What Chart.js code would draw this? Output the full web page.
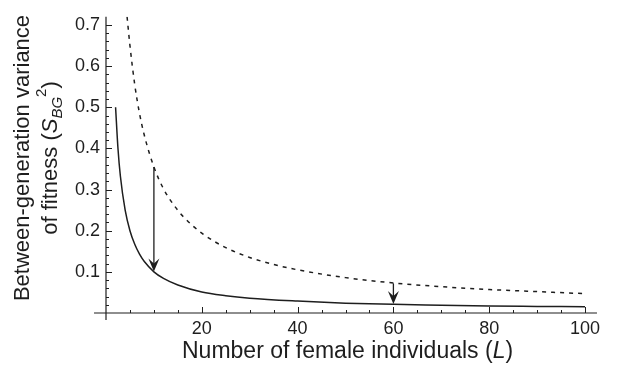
<!DOCTYPE html>
<html>
<head>
<meta charset="utf-8">
<script src="https://cdn.jsdelivr.net/npm/chart.js@4.4.1/dist/chart.umd.min.js"></script>
<style>
  html, body { margin: 0; padding: 0; background: #fff; }
  #wrap { width: 617px; height: 374px; }
</style>
</head>
<body>
<div id="wrap"><canvas id="chart" width="617" height="374"></canvas></div>
<script>
// values
const solidL = [2, 2.5, 3, 4, 5, 6, 7, 8, 10, 12, 15, 20, 25, 30, 40, 50, 60, 70, 80, 90, 100];
const solidV = [0.5, 0.4, 0.333, 0.25, 0.2, 0.167, 0.143, 0.125, 0.1, 0.084, 0.068, 0.051, 0.042, 0.036, 0.029, 0.024, 0.021, 0.019, 0.017, 0.016, 0.015];
const dashedL = [4.4, 5, 6, 7, 8, 10, 12, 14, 16, 20, 25, 30, 35, 40, 50, 60, 70, 80, 90, 100];
const dashedV = [0.72, 0.65, 0.555, 0.485, 0.432, 0.355, 0.302, 0.265, 0.236, 0.194, 0.159, 0.135, 0.118, 0.105, 0.086, 0.073, 0.064, 0.057, 0.052, 0.047];
const arrowL = [10, 60];
const arrowFrom = [0.355, 0.072];
const arrowTo = [0.101, 0.022];
const xTicks = [20, 40, 60, 80, 100];
const yTicks = [0.1, 0.2, 0.3, 0.4, 0.5, 0.6, 0.7];

const FONT = '"Liberation Sans", Arial, Helvetica, sans-serif';
const INK = '#1e1e1e';

// Mathematica-style crossing axes with inward ticks
const axesPlugin = {
    id: 'axes',
    afterDatasetsDraw(chart) {
        const { ctx, scales: { x, y } } = chart;
        const x0 = x.getPixelForValue(0), y0 = y.getPixelForValue(0);
        ctx.save();
        ctx.strokeStyle = INK;
        ctx.lineWidth = 1.2;
        ctx.beginPath();
        ctx.moveTo(x.getPixelForValue(-2.5), y0);
        ctx.lineTo(x.getPixelForValue(102.5), y0);
        ctx.moveTo(x0, y.getPixelForValue(0.72));
        ctx.lineTo(x0, y.getPixelForValue(-0.017));
        ctx.stroke();

        ctx.lineWidth = 1;
        ctx.beginPath();
        for (let v = 5; v <= 100; v += 5) {
            const px = Math.round(x.getPixelForValue(v)) + 0.5;
            const len = v % 20 === 0 ? 6 : 3;
            ctx.moveTo(px, y0);
            ctx.lineTo(px, y0 - len);
        }
        for (let i = 1; i <= 35; i++) {
            const py = Math.round(y.getPixelForValue(i * 0.02)) + 0.5;
            const len = i % 5 === 0 ? 6 : 3;
            ctx.moveTo(x0, py);
            ctx.lineTo(x0 + len, py);
        }
        ctx.stroke();
        ctx.restore();
    }
};

// the two downward arrows from dashed to solid curve
const arrowPlugin = {
    id: 'arrows',
    afterDatasetsDraw(chart) {
        const { ctx, scales: { x, y } } = chart;
        ctx.save();
        ctx.strokeStyle = INK;
        ctx.fillStyle = INK;
        ctx.lineWidth = 1.3;
        arrowL.forEach((L, i) => {
            const px = x.getPixelForValue(L);
            const top = y.getPixelForValue(arrowFrom[i]);
            const tip = y.getPixelForValue(arrowTo[i]);
            ctx.beginPath();
            ctx.moveTo(px, top);
            ctx.lineTo(px, tip - 4);
            ctx.stroke();
            ctx.beginPath();
            ctx.moveTo(px, tip);
            ctx.lineTo(px - 5.5, tip - 13);
            ctx.lineTo(px, tip - 8);
            ctx.lineTo(px + 5.5, tip - 13);
            ctx.closePath();
            ctx.fill();
        });
        ctx.restore();
    }
};

function richWidth(ctx, parts) {
    return parts.reduce((w, p) => { ctx.font = p.font; return w + ctx.measureText(p.t).width; }, 0);
}

function drawRich(ctx, parts, x, y) {
    let cx = x;
    parts.forEach(p => {
        ctx.font = p.font;
        ctx.fillText(p.t, cx, y + (p.dy || 0));
        cx += ctx.measureText(p.t).width;
    });
}

// axis titles with italic / sub / superscript pieces
const titlePlugin = {
    id: 'titles',
    afterDraw(chart) {
        const { ctx } = chart;
        ctx.save();
        ctx.fillStyle = INK;
        ctx.textBaseline = 'alphabetic';
        drawRich(ctx, [
            { t: 'Number of female individuals (', font: '23px ' + FONT },
            { t: 'L', font: 'italic 23px ' + FONT },
            { t: ')', font: '23px ' + FONT }
        ], 182, 358);

        const reg = '22px ' + FONT;
        const line1 = [{ t: 'Between-generation variance', font: reg }];
        const line2 = [
            { t: 'of fitness (', font: reg },
            { t: 'S', font: 'italic 22px ' + FONT },
            { t: 'BG', font: 'italic 15px ' + FONT, dy: 5 },
            { t: '2', font: '15px ' + FONT, dy: -11 },
            { t: ')', font: reg }
        ];
        ctx.translate(0, 158);
        ctx.rotate(-Math.PI / 2);
        drawRich(ctx, line1, -richWidth(ctx, line1) / 2, 29);
        drawRich(ctx, line2, -richWidth(ctx, line2) / 2, 57);
        ctx.restore();
    }
};

const toPts = (xs, ys) => xs.map((v, i) => ({ x: v, y: ys[i] }));

new Chart(document.getElementById('chart'), {
    type: 'line',
    data: {
        datasets: [
            {
                label: 'solid',
                data: toPts(solidL, solidV),
                borderColor: INK,
                borderWidth: 1.5,
                pointRadius: 0,
                cubicInterpolationMode: 'monotone',
                fill: false
            },
            {
                label: 'dashed',
                data: toPts(dashedL, dashedV),
                borderColor: INK,
                borderWidth: 1.5,
                borderDash: [4, 5],
                pointRadius: 0,
                cubicInterpolationMode: 'monotone',
                fill: false
            }
        ]
    },
    options: {
        responsive: false,
        animation: false,
        layout: { padding: { left: 0, top: 9, right: 32, bottom: 0 } },
        plugins: {
            legend: { display: false },
            tooltip: { enabled: false }
        },
        scales: {
            x: {
                type: 'linear',
                min: 0,
                max: 100,
                grid: { display: false, drawTicks: false },
                border: { display: false },
                afterBuildTicks: s => { s.ticks = xTicks.map(v => ({ value: v })); },
                afterFit: s => { s.height = 61; },
                ticks: {
                    color: INK,
                    padding: 5,
                    maxRotation: 0,
                    font: { family: FONT, size: 18 }
                }
            },
            y: {
                min: 0,
                max: 0.72,
                grid: { display: false, drawTicks: false },
                border: { display: false },
                afterBuildTicks: s => { s.ticks = yTicks.map(v => ({ value: v })); },
                afterFit: s => { s.width = 106; },
                ticks: {
                    color: INK,
                    padding: 6,
                    font: { family: FONT, size: 18 },
                    callback: v => v.toFixed(1)
                }
            }
        }
    },
    plugins: [axesPlugin, arrowPlugin, titlePlugin]
});
</script>
</body>
</html>
